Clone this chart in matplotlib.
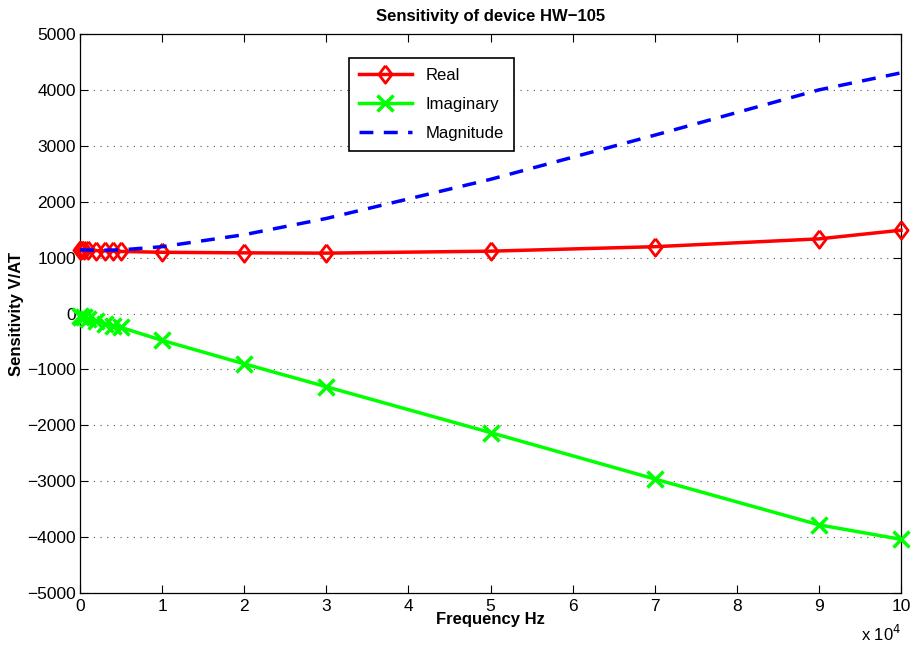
import numpy as np
import matplotlib.pyplot as plt

plt.rcParams['font.family'] = ['Liberation Sans', 'DejaVu Sans']

# Frequency in Hz
freq = [10, 100, 500, 1000, 2000, 3000, 4000, 5000, 10000, 20000, 30000,
        50000, 70000, 90000, 100000]
real = [1140, 1140, 1135, 1130, 1125, 1120, 1115, 1110, 1095, 1085, 1080,
        1115, 1195, 1335, 1490]
imag = [-50, -55, -70, -95, -140, -180, -215, -250, -480, -900, -1310,
        -2130, -2960, -3780, -4040]
magnitude = [1141, 1141, 1137, 1134, 1134, 1134, 1135, 1138, 1195, 1410, 1700,
             2400, 3190, 4000, 4305]

x = np.array(freq) / 1e4

# matlab-style diamond (wider than mpl 'd')
diamond = [(0, 1), (0.76, 0), (0, -1), (-0.76, 0), (0, 1)]

fig = plt.figure(figsize=(9.13, 6.46), dpi=100)
ax = fig.add_axes([0.0876, 0.082, 0.8993, 0.8654])

ax.plot(x, real, color='#ff0000', lw=2.5, marker=diamond, ms=12.5, mfc='none',
        mew=2, label='Real', clip_on=False, zorder=3)
ax.plot(x, imag, color='#00ff00', lw=2.5, marker='x', ms=11, mew=2.5,
        label='Imaginary', clip_on=False, zorder=3)
ax.plot(x, magnitude, color='#0000ff', lw=2.5, ls=(0, (4, 3)),
        label='Magnitude', clip_on=False, zorder=3)

ax.set_xlim(0, 10)
ax.set_ylim(-5000, 5000)
ax.set_xticks(range(0, 11))
ax.set_yticks(range(-5000, 5001, 1000))
ax.set_yticklabels([str(v).replace('-', '\u2212') for v in range(-5000, 5001, 1000)])
ax.tick_params(direction='in', length=6, width=0.8, labelsize=12.5,
               top=True, right=True, pad=4)
ax.tick_params(axis='y', pad=3)
ax.grid(axis='y', linestyle=(0, (1, 5)), color='#555555', lw=0.8)
for s in ax.spines.values():
    s.set_linewidth(0.9)

ax.set_title('Sensitivity of device HW\u2212105', fontsize=12, fontweight='bold', pad=9)
ax.set_xlabel('Frequency Hz', fontsize=12, fontweight='bold', labelpad=-1)
ax.set_ylabel('Sensitivity V/AT', fontsize=12, fontweight='bold', labelpad=2)
ax.text(1.0, -0.055, r'x 10$^4$', transform=ax.transAxes, ha='right', va='top',
        fontsize=12)

leg = ax.legend(loc='upper left', bbox_to_anchor=(0.317, 0.972), fontsize=12,
                fancybox=False, framealpha=1, edgecolor='black',
                handlelength=3.2, borderpad=0.6, labelspacing=0.85)
leg.get_frame().set_linewidth(1.2)

fig.savefig('out.png', dpi=100)
